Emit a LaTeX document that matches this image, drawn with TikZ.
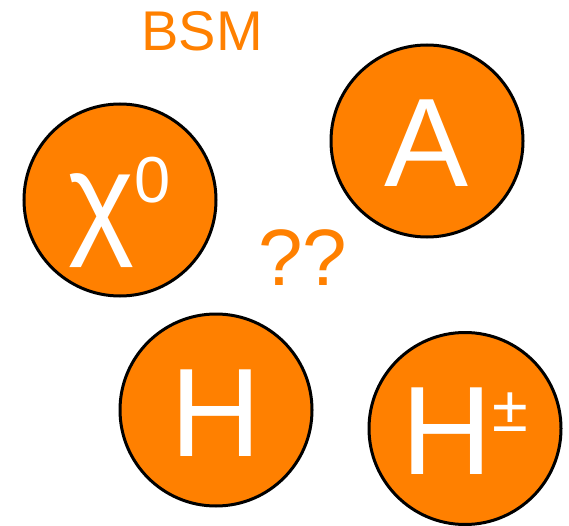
\documentclass[tikz,border=0pt]{standalone}
\usepackage{fontspec}
\setmainfont{Liberation Sans}
\usepackage{tikz}
\usetikzlibrary{positioning}
\definecolor{bsmorange}{RGB}{255,128,0}

\begin{document}
\begin{tikzpicture}[x=1pt, y=-1pt,
        ball/.style={circle, draw=black, line width=3pt, fill=bsmorange,
                     minimum size=192pt, inner sep=0pt, outer sep=0pt,
                     text=white, text height=92pt, text depth=0pt,
                     font=\fontsize{126}{126}\selectfont},
        tag/.style={text=bsmorange, inner sep=0pt, anchor=base},
    ]
    \useasboundingbox (0,0) rectangle (569,526);
    \node[tag, font=\fontsize{56}{56}\selectfont] (bsm) at (202, 51) {BSM};
    \node[ball, text height=82pt] (chi) at (120, 200)
        {χ\raisebox{39pt}{\fontsize{65}{65}\selectfont 0}};
    \node[ball] (pseudo) at (427, 141) {A};
    \node[ball] (higgs) at (216, 410) {H};
    \node[ball] (charged) at (465, 428.5)
        {H\raisebox{43pt}{\fontsize{65}{65}\selectfont ±}};
    \node[tag, font=\fontsize{80}{80}\selectfont] (what) at (302.5, 285) {??};
\end{tikzpicture}
\end{document}
